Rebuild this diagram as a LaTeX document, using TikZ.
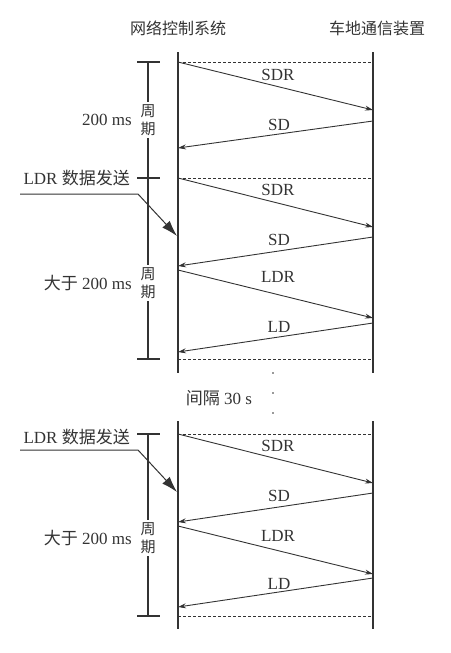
\documentclass[tikz,border=0pt]{standalone}
\usepackage{fontspec}
\setmainfont{Liberation Serif}
\newfontfamily\cjk{Noto Sans CJK SC}
\usetikzlibrary{arrows.meta}
\definecolor{ink}{gray}{0.2}
\tikzset{
  lifeline/.style={draw=ink, line width=1.1pt},
  msg/.style={draw=ink, line width=0.9pt, -{Stealth[length=8pt,width=5pt]}},
  sync/.style={draw=ink, line width=0.7pt, dash pattern=on 3pt off 2pt},
  bracket/.style={draw=ink, line width=1.1pt},
  leader/.style={draw=ink, line width=1pt, -{Latex[length=16pt,width=10pt]}},
  lbl/.style={text=ink, font=\fontsize{17}{20}\selectfont, inner sep=1pt},
  cjklbl/.style={lbl, font=\cjk\fontsize{16}{20}\selectfont},
  cyc/.style={text=ink, fill=white, align=center, inner sep=2pt, font=\cjk\fontsize{15}{18}\selectfont},
}
\begin{document}
\begin{tikzpicture}[x=1pt,y=1pt]
	\useasboundingbox (0,0) rectangle (450,-653);
	
	% Títulos
	\node[cjklbl] (ncs) at (178,-28) {网络控制系统};
	\node[cjklbl] (tcu) at (377,-28) {车地通信装置};
	
	% Líneas de vida
	\draw[lifeline] (178,-52) coordinate (ncsA) -- (178,-373) coordinate (ncsB);
	\draw[lifeline] (373,-52) coordinate (tcuA) -- (373,-373) coordinate (tcuB);
	\draw[lifeline] (178,-421) coordinate (ncsC) -- (178,-629) coordinate (ncsD);
	\draw[lifeline] (373,-421) coordinate (tcuC) -- (373,-629) coordinate (tcuD);
	
	% Puntos de los mensajes
	\coordinate (s1) at (178,-62);  \coordinate (r1) at (373,-62);
	\coordinate (s2) at (178,-178); \coordinate (r2) at (373,-178);
	\coordinate (s3) at (178,-359); \coordinate (r3) at (373,-359);
	\coordinate (s4) at (178,-434); \coordinate (r4) at (373,-434);
	\coordinate (s5) at (178,-616); \coordinate (r5) at (373,-616);
	
	% Líneas de sincronía
	\draw[sync] (s1) -- (r1);
	\draw[sync] (s2) -- (r2);
	\draw[sync] (s3) -- (r3);
	\draw[sync] (s4) -- (r4);
	\draw[sync] (s5) -- (r5);
	
	% Primer ciclo
	\coordinate (p1) at (373,-110); \coordinate (p2) at (373,-121); \coordinate (p3) at (178,-148);
	\draw[msg] (s1) -- (p1);
	\draw[msg] (p2) -- (p3);
	\node[lbl] (sdrA) at (278,-75) {SDR};
	\node[lbl] (sdA) at (279,-125) {SD};
	
	% Segundo ciclo
	\coordinate (q1) at (373,-227); \coordinate (q2) at (373,-237); \coordinate (q3) at (178,-266);
	\coordinate (q4) at (178,-270); \coordinate (q5) at (373,-318); \coordinate (q6) at (373,-323);
	\coordinate (q7) at (178,-352);
	\draw[msg] (s2) -- (q1);
	\draw[msg] (q2) -- (q3);
	\draw[msg] (q4) -- (q5);
	\draw[msg] (q6) -- (q7);
	\node[lbl] (sdrB) at (278,-190) {SDR};
	\node[lbl] (sdB) at (279,-240) {SD};
	\node[lbl] (ldrB) at (278,-277) {LDR};
	\node[lbl] (ldB) at (279,-327) {LD};
	
	% Tercer ciclo
	\coordinate (u1) at (373,-483); \coordinate (u2) at (373,-493); \coordinate (u3) at (178,-522);
	\coordinate (u4) at (178,-526); \coordinate (u5) at (373,-574); \coordinate (u6) at (373,-578);
	\coordinate (u7) at (178,-607);
	\draw[msg] (s4) -- (u1);
	\draw[msg] (u2) -- (u3);
	\draw[msg] (u4) -- (u5);
	\draw[msg] (u6) -- (u7);
	\node[lbl] (sdrC) at (278,-446) {SDR};
	\node[lbl] (sdC) at (279,-496) {SD};
	\node[lbl] (ldrC) at (278,-536) {LDR};
	\node[lbl] (ldC) at (279,-584) {LD};
	
	% Cotas de periodo
	\draw[bracket] (148,-62) -- (148,-359);
	\draw[bracket] (137,-62) -- (160,-62);
	\draw[bracket] (137,-178) -- (160,-178);
	\draw[bracket] (137,-359) -- (160,-359);
	\draw[bracket] (148,-434) -- (148,-616);
	\draw[bracket] (137,-434) -- (160,-434);
	\draw[bracket] (137,-616) -- (160,-616);
	\node[cyc] (cycA) at (148,-120) {周\\期};
	\node[cyc] (cycB) at (148,-283) {周\\期};
	\node[cyc] (cycC) at (148,-538) {周\\期};
	
	% Etiquetas de periodo
	\node[lbl, anchor=east] (tA) at (133,-120) {200 ms};
	\node[lbl, anchor=east] (tB) at (133,-283) {{\cjk 大于} 200 ms};
	\node[lbl, anchor=east] (tC) at (133,-538) {{\cjk 大于} 200 ms};
	
	% Envío de LDR
	\node[lbl, anchor=east] (ldrSendA) at (131,-178) {LDR {\cjk 数据发送}};
	\node[lbl, anchor=east] (ldrSendB) at (131,-437) {LDR {\cjk 数据发送}};
	\coordinate (kA) at (138,-194); \coordinate (hA) at (177,-236);
	\coordinate (kB) at (138,-450); \coordinate (hB) at (177,-492);
	\draw[leader] (20,-194) -- (kA) -- (hA);
	\draw[leader] (20,-450) -- (kB) -- (hB);
	
	% Intervalo
	\node[lbl] (gap) at (219,-398) {{\cjk 间隔} 30 s};
	\foreach \y in {373,393,413}
		\fill[ink] (273,-\y) circle (0.9);
	
\end{tikzpicture}
\end{document}
